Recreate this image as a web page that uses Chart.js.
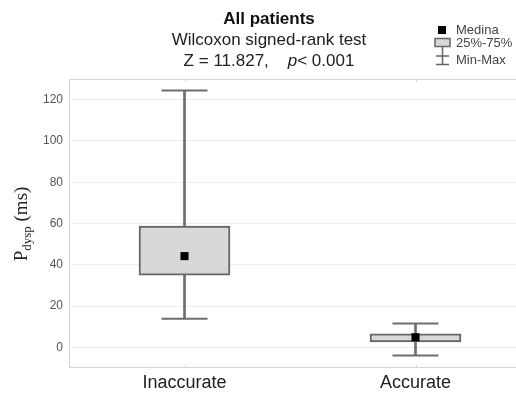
<!DOCTYPE html>
<html>
<head>
<meta charset="utf-8">
<script src="https://cdn.jsdelivr.net/npm/chart.js@4/dist/chart.umd.min.js"></script>
<style>
  html, body { margin: 0; padding: 0; background: #fff; }
  #wrap { width: 516px; height: 394px; }
</style>
</head>
<body>
<div id="wrap"><canvas id="boxchart"></canvas></div>
<script>
// values
const categories = ['Inaccurate', 'Accurate'];
const minVals = [13.8, -3.9];
const q1Vals = [35.0, 2.6];
const medianVals = [44.2, 4.9];
const q3Vals = [58.8, 6.6];
const maxVals = [124.4, 11.5];
const yTicks = [0, 20, 40, 60, 80, 100, 120];

const SANS = '"Liberation Sans", Arial, sans-serif';
const SERIF = '"Liberation Serif", "Times New Roman", serif';

// title, legend, y title and frame drawn on the canvas
const extras = {
  id: 'extras',
  beforeDraw(chart) {
    const ctx = chart.ctx, a = chart.chartArea;
    ctx.save();
    ctx.strokeStyle = '#d4d4d4';
    ctx.lineWidth = 1;
    ctx.beginPath();
    ctx.moveTo(a.right + 5, a.top + 0.5);
    ctx.lineTo(a.left + 0.5, a.top + 0.5);
    ctx.lineTo(a.left + 0.5, a.bottom - 0.5);
    ctx.lineTo(a.right + 5, a.bottom - 0.5);
    ctx.stroke();
    // small tick marks at the categories
    const xs = chart.scales.x;
    ctx.beginPath();
    categories.forEach((c, i) => {
      const px = Math.round(xs.getPixelForValue(i)) + 0.5;
      ctx.moveTo(px, a.bottom - 3); ctx.lineTo(px, a.bottom);
      ctx.moveTo(px, a.top); ctx.lineTo(px, a.top + 3);
    });
    ctx.stroke();
    ctx.restore();
  },
  afterDraw(chart) {
    const ctx = chart.ctx;
    ctx.save();
    ctx.textBaseline = 'middle';
    ctx.fillStyle = '#111';
    const cx = 269;
    ctx.textAlign = 'center';
    ctx.font = 'bold 17px ' + SANS;
    ctx.fillText('All patients', cx, 19);
    ctx.fillStyle = '#222';
    ctx.font = '17px ' + SANS;
    ctx.fillText('Wilcoxon signed-rank test', cx, 40);

    // Z line with italic p
    const p1 = 'Z = 11.827,    ', p2 = 'p', p3 = '< 0.001';
    ctx.textAlign = 'left';
    ctx.font = '17px ' + SANS;
    const w1 = ctx.measureText(p1).width, w3 = ctx.measureText(p3).width;
    ctx.font = 'italic 17px ' + SANS;
    const w2 = ctx.measureText(p2).width;
    let x = cx - (w1 + w2 + w3) / 2;
    ctx.font = '17px ' + SANS;
    ctx.fillText(p1, x, 61);
    ctx.font = 'italic 17px ' + SANS;
    ctx.fillText(p2, x + w1, 61);
    ctx.font = '17px ' + SANS;
    ctx.fillText(p3, x + w1 + w2, 61);

    // legend
    ctx.font = '13px ' + SANS;
    ctx.fillStyle = '#444';
    ctx.fillText('Medina', 456, 30);
    ctx.fillText('25%-75%', 456, 43);
    ctx.fillText('Min-Max', 456, 60);
    ctx.fillStyle = '#000';
    ctx.fillRect(438, 26, 8, 8);
    ctx.fillStyle = '#d8d8d8';
    ctx.strokeStyle = '#666';
    ctx.lineWidth = 1.5;
    ctx.fillRect(435, 38.5, 15, 8);
    ctx.strokeRect(435, 38.5, 15, 8);
    ctx.beginPath();
    ctx.moveTo(442.5, 46.5); ctx.lineTo(442.5, 64.5);
    ctx.moveTo(436, 56); ctx.lineTo(449, 56);
    ctx.moveTo(436, 64.5); ctx.lineTo(449, 64.5);
    ctx.stroke();

    // y axis title: P_dysp (ms)
    ctx.translate(27, 224);
    ctx.rotate(-Math.PI / 2);
    ctx.textBaseline = 'alphabetic';
    ctx.fillStyle = '#222';
    ctx.font = '19px ' + SERIF;
    const tP = 'P', tU = ' (ms)';
    const wP = ctx.measureText(tP).width, wU = ctx.measureText(tU).width;
    ctx.font = '13px ' + SERIF;
    const wS = ctx.measureText('dysp').width;
    let sx = -(wP + wS + wU) / 2;
    ctx.font = '19px ' + SERIF;
    ctx.fillText(tP, sx, 0);
    ctx.font = '13px ' + SERIF;
    ctx.fillText('dysp', sx + wP, 4);
    ctx.font = '19px ' + SERIF;
    ctx.fillText(tU, sx + wP + wS, 0);
    ctx.restore();
  }
};

const idx = categories.map((c, i) => i);

new Chart(document.getElementById('boxchart'), {
  type: 'bar',
  data: {
    datasets: [
      {
        type: 'scatter',
        label: 'Medina',
        data: idx.map(i => ({ x: i, y: medianVals[i] })),
        pointStyle: 'rect',
        pointRadius: 5.7,
        backgroundColor: '#000',
        borderColor: '#000',
        borderWidth: 0,
        order: 0
      },
      {
        label: '25%-75%',
        data: idx.map(i => ({ x: i, y: [q1Vals[i], q3Vals[i]] })),
        backgroundColor: '#d8d8d8',
        borderColor: '#666',
        borderWidth: 2,
        borderSkipped: false,
        barThickness: 91,
        grouped: false,
        order: 1
      },
      {
        type: 'scatter',
        label: 'caps',
        data: idx.flatMap(i => [{ x: i, y: minVals[i] }, { x: i, y: maxVals[i] }]),
        pointStyle: 'line',
        pointRadius: 23,
        borderColor: '#6e6e6e',
        borderWidth: 2,
        order: 2
      },
      {
        label: 'Min-Max',
        data: idx.map(i => ({ x: i, y: [minVals[i], maxVals[i]] })),
        backgroundColor: '#6e6e6e',
        borderWidth: 0,
        barThickness: 2,
        grouped: false,
        order: 3
      }
    ]
  },
  options: {
    responsive: true,
    maintainAspectRatio: false,
    animation: false,
    events: [],
    layout: { autoPadding: false, padding: { top: 79, left: 0, right: 0, bottom: 0 } },
    plugins: {
      legend: { display: false },
      tooltip: { enabled: false },
      title: { display: false }
    },
    scales: {
      x: {
        type: 'linear',
        offset: false,
        min: -0.5,
        max: 1.435,
        grid: { display: false, drawTicks: false },
        border: { display: false },
        afterBuildTicks: s => { s.ticks = idx.map(v => ({ value: v })); },
        afterFit: s => { s.height = 26; s.paddingLeft = 0; s.paddingRight = 0; },
        ticks: {
          callback: v => categories[v],
          font: { family: SANS, size: 18 },
          color: '#222',
          padding: 4,
          maxRotation: 0
        }
      },
      y: {
        min: -10,
        max: 130,
        afterBuildTicks: s => { s.ticks = yTicks.map(v => ({ value: v })); },
        afterFit: s => { s.width = 69; s.paddingTop = 0; s.paddingBottom = 0; },
        grid: { color: '#ececec', drawTicks: false },
        border: { display: false },
        ticks: {
          font: { family: SANS, size: 12 },
          color: '#555',
          padding: 6
        }
      }
    }
  },
  plugins: [extras]
});
</script>
</body>
</html>
